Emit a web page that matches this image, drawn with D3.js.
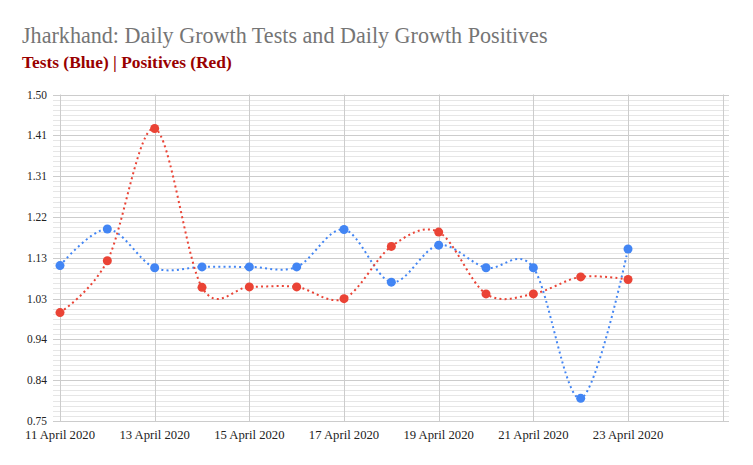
<!DOCTYPE html>
<html><head><meta charset="utf-8">
<script src="https://cdn.jsdelivr.net/npm/d3@7"></script>
<style>body{margin:0;background:#fff}svg{display:block}</style>
</head><body>
<svg id="chart" width="753" height="465"></svg>
<script>
// ---- data ----
const dates = ["2020-04-11","2020-04-12","2020-04-13","2020-04-14","2020-04-15","2020-04-16","2020-04-17","2020-04-18","2020-04-19","2020-04-20","2020-04-21","2020-04-22","2020-04-23"];
const tests = [1.107, 1.191, 1.102, 1.104, 1.104, 1.104, 1.190, 1.069, 1.154, 1.102, 1.102, 0.802, 1.145];
const positives = [0.999, 1.118, 1.422, 1.057, 1.058, 1.058, 1.031, 1.151, 1.184, 1.042, 1.042, 1.081, 1.075];
const yTickValues = [0.75, 0.84375, 0.9375, 1.03125, 1.125, 1.21875, 1.3125, 1.40625, 1.5];
const yTickLabels = ["0.75","0.84","0.94","1.03","1.13","1.22","1.31","1.41","1.50"];
const xTickDates = ["2020-04-11","2020-04-13","2020-04-15","2020-04-17","2020-04-19","2020-04-21","2020-04-23","2020-04-25"];
const xTickLabels = ["11 April 2020","13 April 2020","15 April 2020","17 April 2020","19 April 2020","21 April 2020","23 April 2020",""];
const titleText = "Jharkhand: Daily Growth Tests and Daily Growth Positives";
const subtitleText = "Tests (Blue) | Positives (Red)";

// ---- setup ----
const parse = d3.utcParse("%Y-%m-%d");
const svg = d3.select("#chart");
const FONT = "'Liberation Serif', 'DejaVu Serif', serif";
const BLUE = "#4285F4", RED = "#EA4335";

const x = d3.scaleUtc().domain([parse("2020-04-11"), parse("2020-04-25")]).range([60, 722.7]);
const y = d3.scaleLinear().domain([0.75, 1.5]).range([421, 94.5]);
const gridLeft = 53, gridRight = 729;

function fit(sel, target) {
  const w = sel.node().getComputedTextLength();
  const fs = parseFloat(sel.attr("font-size"));
  const nfs = fs * target / w;
  sel.attr("font-size", nfs);
  return nfs;
}

// title
const t = svg.append("text").attr("x", 22).attr("y", 43).attr("font-family", FONT)
  .attr("font-size", 20).attr("fill", "#757575").text(titleText);
fit(t, 526);
const st = svg.append("text").attr("x", 22).attr("y", 68).attr("font-family", FONT)
  .attr("font-size", 14).attr("font-weight", "bold").attr("fill", "#990000").text(subtitleText);
fit(st, 210);

// minor gridlines
const minor = [];
for (let i = 0; i < yTickValues.length - 1; i++) {
  const a = yTickValues[i], b = yTickValues[i + 1];
  for (let k = 1; k < 8; k++) minor.push(a + (b - a) * k / 8);
}
const g = svg.append("g");
g.selectAll("line.minor").data(minor).join("line").attr("class", "minor")
  .attr("x1", gridLeft).attr("x2", gridRight)
  .attr("y1", d => Math.round(y(d)) + 0.5).attr("y2", d => Math.round(y(d)) + 0.5)
  .attr("stroke", "#e6e6e6").attr("stroke-width", 1);
// vertical gridlines
g.selectAll("line.vx").data(xTickDates).join("line").attr("class", "vx")
  .attr("x1", d => Math.round(x(parse(d))) + 0.5).attr("x2", d => Math.round(x(parse(d))) + 0.5)
  .attr("y1", y(1.5)).attr("y2", y(0.75))
  .attr("stroke", "#cccccc").attr("stroke-width", 1);
// major gridlines
g.selectAll("line.major").data(yTickValues).join("line").attr("class", "major")
  .attr("x1", gridLeft).attr("x2", gridRight)
  .attr("y1", d => Math.round(y(d)) + 0.5).attr("y2", d => Math.round(y(d)) + 0.5)
  .attr("stroke", "#cccccc").attr("stroke-width", 1);

// y labels
const yl = svg.append("g").selectAll("text").data(yTickValues).join("text")
  .attr("x", 47).attr("y", d => y(d) + 4).attr("text-anchor", "end")
  .attr("font-family", FONT).attr("font-size", 12).attr("fill", "#222")
  .text((d, i) => yTickLabels[i]);
const yfs = fit(d3.select(yl.nodes()[8]), 20);
yl.attr("font-size", yfs);

// x labels
const xl = svg.append("g").selectAll("text").data(xTickDates).join("text")
  .attr("x", d => x(parse(d))).attr("y", 439).attr("text-anchor", "middle")
  .attr("font-family", FONT).attr("font-size", 12).attr("fill", "#222")
  .text((d, i) => xTickLabels[i]);
const xfs = fit(d3.select(xl.nodes()[0]), 70);
xl.attr("font-size", xfs);

// lines
const line = d3.line().x((d, i) => x(parse(dates[i]))).y(d => y(d)).curve(d3.curveCardinal.tension(0));
const series = [{v: tests, c: BLUE}, {v: positives, c: RED}];
series.forEach(s => {
  svg.append("path").attr("d", line(s.v)).attr("fill", "none").attr("stroke", s.c)
    .attr("stroke-width", 2).attr("stroke-dasharray", "2,3.2");
});
series.forEach(s => {
  svg.append("g").selectAll("circle").data(s.v).join("circle")
    .attr("cx", (d, i) => x(parse(dates[i]))).attr("cy", d => y(d)).attr("r", 4.5).attr("fill", s.c);
});
</script>
</body></html>
